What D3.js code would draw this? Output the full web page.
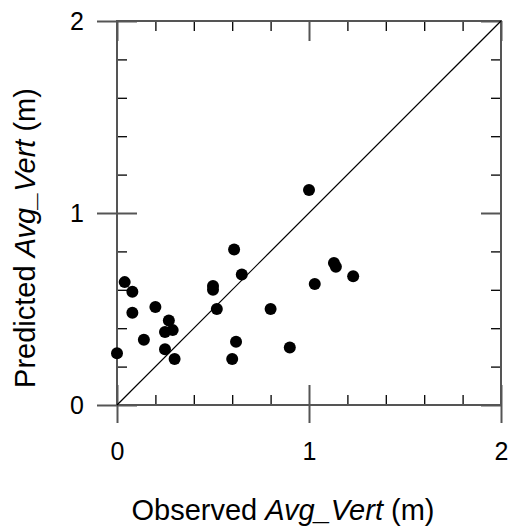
<!DOCTYPE html>
<html>
<head>
<meta charset="utf-8">
<script src="https://cdn.jsdelivr.net/npm/d3@7"></script>
<style>
  html, body { margin: 0; padding: 0; background: #fff; }
  svg { display: block; }
  text { font-family: "Liberation Sans", Arial, sans-serif; fill: #000; }
</style>
</head>
<body>
<svg id="chart" width="509" height="529"></svg>
<script>
// Data
const observed  = [0.00, 0.04, 0.08, 0.08, 0.14, 0.20, 0.27, 0.25, 0.29, 0.25, 0.30,
                   0.50, 0.50, 0.52, 0.65, 0.61, 0.62, 0.60, 0.80, 0.90, 1.00, 1.03,
                   1.13, 1.14, 1.23];
const predicted = [0.27, 0.64, 0.59, 0.48, 0.34, 0.51, 0.44, 0.38, 0.39, 0.29, 0.24,
                   0.62, 0.60, 0.50, 0.68, 0.81, 0.33, 0.24, 0.50, 0.30, 1.12, 0.63,
                   0.74, 0.72, 0.67];
const majorTicks = [0, 1, 2];
const minorTicks = [0.2, 0.4, 0.6, 0.8, 1.2, 1.4, 1.6, 1.8];
const xTitle = ["Observed ", "Avg_Vert", " (m)"];
const yTitle = ["Predicted ", "Avg_Vert", " (m)"];

const svg = d3.select("#chart");
const pL = 117, pR = 501, pT = 21, pB = 405;
const x = d3.scaleLinear().domain([0, 2]).range([pL, pR]);
const y = d3.scaleLinear().domain([0, 2]).range([pB, pT]);

const frameColor = "#555";

function styleAxis(g, color, width) {
  g.select(".domain").remove();
  g.selectAll(".tick line").attr("stroke", color).attr("stroke-width", width);
  g.selectAll(".tick text").attr("font-size", 25).attr("fill", "#000")
    .attr("font-family", '"Liberation Sans", Arial, sans-serif');
}

// Minor ticks (inward) on all four sides
svg.append("g").attr("transform", `translate(0,${pB})`)
  .call(d3.axisTop(x).tickValues(minorTicks).tickSize(10).tickFormat(""))
  .call(g => styleAxis(g, "#000", 1.3));
svg.append("g").attr("transform", `translate(0,${pT})`)
  .call(d3.axisBottom(x).tickValues(minorTicks).tickSize(10).tickFormat(""))
  .call(g => styleAxis(g, "#000", 1.3));
svg.append("g").attr("transform", `translate(${pL},0)`)
  .call(d3.axisRight(y).tickValues(minorTicks).tickSize(10).tickFormat(""))
  .call(g => styleAxis(g, "#000", 1.3));
svg.append("g").attr("transform", `translate(${pR},0)`)
  .call(d3.axisLeft(y).tickValues(minorTicks).tickSize(10).tickFormat(""))
  .call(g => styleAxis(g, "#000", 1.3));

// Major ticks inward on all four sides
svg.append("g").attr("transform", `translate(0,${pB})`)
  .call(d3.axisTop(x).tickValues(majorTicks).tickSize(20).tickFormat(""))
  .call(g => styleAxis(g, frameColor, 2));
svg.append("g").attr("transform", `translate(0,${pT})`)
  .call(d3.axisBottom(x).tickValues(majorTicks).tickSize(20).tickFormat(""))
  .call(g => styleAxis(g, frameColor, 2));
svg.append("g").attr("transform", `translate(${pL},0)`)
  .call(d3.axisRight(y).tickValues(majorTicks).tickSize(20).tickFormat(""))
  .call(g => styleAxis(g, frameColor, 2));
svg.append("g").attr("transform", `translate(${pR},0)`)
  .call(d3.axisLeft(y).tickValues(majorTicks).tickSize(20).tickFormat(""))
  .call(g => styleAxis(g, frameColor, 2));

// Major ticks outward with labels (bottom and left)
svg.append("g").attr("transform", `translate(0,${pB})`)
  .call(d3.axisBottom(x).tickValues(majorTicks).tickSize(18).tickPadding(19).tickFormat(d3.format("d")))
  .call(g => styleAxis(g, frameColor, 2));
svg.append("g").attr("transform", `translate(${pL},0)`)
  .call(d3.axisLeft(y).tickValues(majorTicks).tickSize(20).tickPadding(13).tickFormat(d3.format("d")))
  .call(g => styleAxis(g, frameColor, 2));

// Frame
svg.append("rect")
  .attr("x", pL).attr("y", pT)
  .attr("width", pR - pL).attr("height", pB - pT)
  .attr("fill", "none").attr("stroke", frameColor).attr("stroke-width", 2);

// 1:1 line
svg.append("line")
  .attr("x1", x(0)).attr("y1", y(0)).attr("x2", x(2)).attr("y2", y(2))
  .attr("stroke", "#000").attr("stroke-width", 1.2);

// Points
svg.append("g").selectAll("circle")
  .data(observed.map((o, i) => [o, predicted[i]]))
  .join("circle")
  .attr("cx", d => x(d[0])).attr("cy", d => y(d[1]))
  .attr("r", 6).attr("fill", "#000");

// Axis titles
function title(parts, attrs) {
  const t = svg.append("text").attr("font-size", 29).attr("text-anchor", "middle");
  Object.entries(attrs).forEach(([k, v]) => t.attr(k, v));
  parts.forEach((p, i) => t.append("tspan").text(p).attr("font-style", i === 1 ? "italic" : "normal"));
  return t;
}
title(xTitle, { x: 283, y: 520 });
title(yTitle, { transform: "translate(35,238) rotate(-90)" });
</script>
</body>
</html>
